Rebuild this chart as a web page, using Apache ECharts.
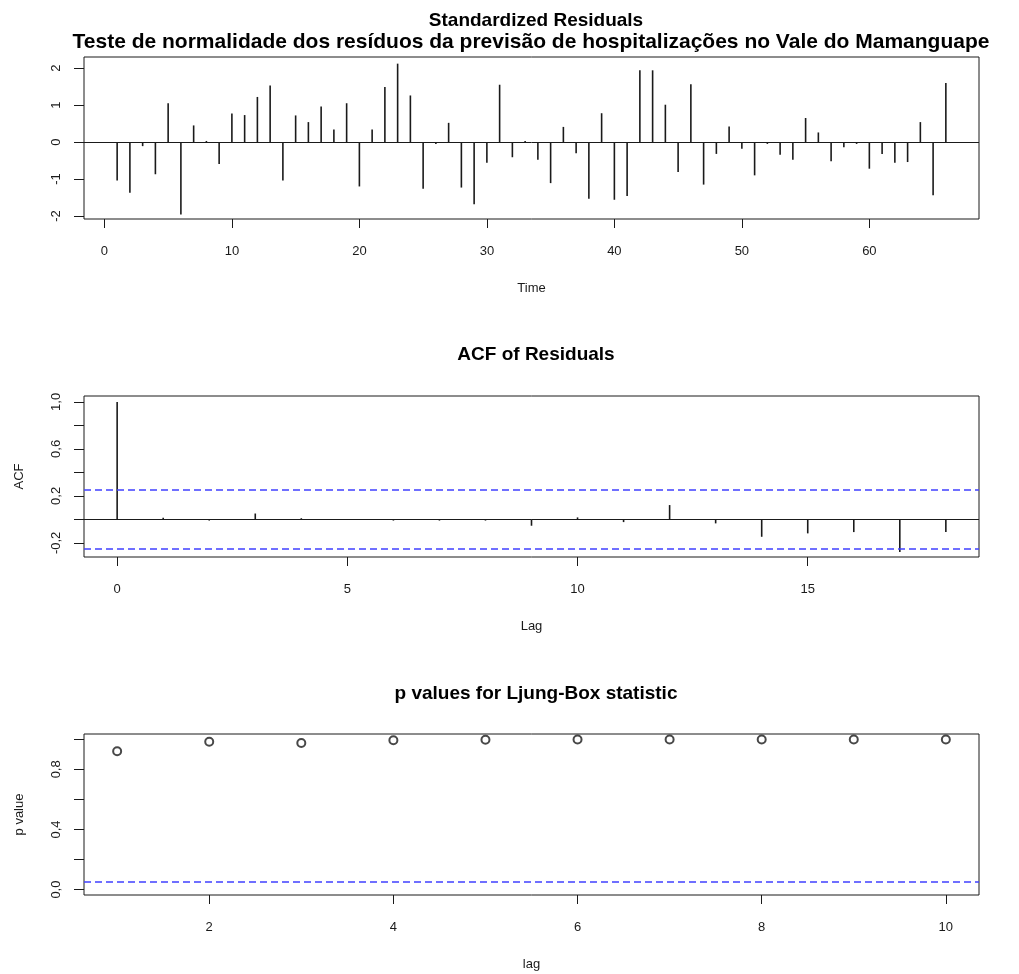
<!DOCTYPE html>
<html>
<head>
<meta charset="utf-8">
<script src="https://cdn.jsdelivr.net/npm/echarts@6/dist/echarts.min.js"></script>
<style>
  html, body { margin: 0; padding: 0; background: #fff; }
  #chart { width: 1019px; height: 974px; }
</style>
</head>
<body>
<div id="chart"></div>
<script>
// standardized residuals, t = 1..66
var residuals = [
    -1.04, -1.37, -0.11, -0.87, 1.05, -1.96, 0.45, 0.03, -0.59, 0.77,
    0.73, 1.22, 1.53, -1.04, 0.72, 0.54, 0.96, 0.34, 1.05, -1.20,
    0.34, 1.49, 2.12, 1.26, -1.26, -0.05, 0.52, -1.23, -1.68, -0.56,
    1.55, -0.41, 0.03, -0.48, -1.11, 0.41, -0.30, -1.53, 0.78, -1.56,
    -1.46, 1.94, 1.94, 1.01, -0.81, 1.56, -1.15, -0.32, 0.42, -0.18,
    -0.90, -0.05, -0.34, -0.48, 0.65, 0.26, -0.52, -0.14, -0.05, -0.72,
    -0.32, -0.56, -0.54, 0.54, -1.44, 1.60
];

// ACF of residuals, lag 0..18
var acfLags = [0, 1, 2, 3, 4, 5, 6, 7, 8, 9, 10, 11, 12, 13, 14, 15, 16, 17, 18];
var acfValues = [1.0, 0.014, -0.01, 0.05, 0.01, -0.005, -0.01, -0.01, -0.01, -0.054,
    0.017, -0.023, 0.122, -0.034, -0.148, -0.119, -0.108, -0.278, -0.108];
var acfBound = 0.246;

// Ljung-Box p values
var lbLags = [1, 2, 3, 4, 5, 6, 7, 8, 9, 10];
var lbPvalues = [0.92, 0.984, 0.975, 0.993, 0.997, 0.999, 0.999, 0.999, 0.999, 0.999];
var lbBound = 0.05;

// ticks
var timeTicks = [0, 10, 20, 30, 40, 50, 60];
var resTicks = [-2, -1, 0, 1, 2];
var acfXTicks = [0, 5, 10, 15];
var acfYTicks = [-0.2, 0, 0.2, 0.4, 0.6, 0.8, 1.0];
var acfYLabels = [-0.2, 0.2, 0.6, 1.0];
var lbXTicks = [2, 4, 6, 8, 10];
var lbYTicks = [0, 0.2, 0.4, 0.6, 0.8, 1.0];
var lbYLabels = [0, 0.4, 0.8];

var FONT = 'Liberation Sans, Arial, sans-serif';
var INK = '#1a1a1a';
var BLUE = '#4040ff';

function comma(v) {
    return v.toFixed(1).replace('.', ',');
}

function xAx(idx, min, max, ticks, name) {
    return {
        type: 'value', gridIndex: idx, min: min, max: max,
        axisLine: { show: false, onZero: false },
        splitLine: { show: false },
        axisTick: { show: true, length: 9, lineStyle: { color: INK }, customValues: ticks },
        axisLabel: { color: INK, fontFamily: FONT, fontSize: 13, margin: 26, customValues: ticks },
        name: name, nameLocation: 'middle', nameGap: 63,
        nameTextStyle: { color: INK, fontFamily: FONT, fontSize: 13 }
    };
}

function yAx(idx, min, max, ticks, labels, fmt, name) {
    return {
        type: 'value', gridIndex: idx, min: min, max: max,
        axisLine: { show: false, onZero: false },
        splitLine: { show: false },
        axisTick: { show: true, length: 10, lineStyle: { color: INK }, customValues: ticks },
        axisLabel: { color: INK, fontFamily: FONT, fontSize: 13, margin: 21, rotate: 90,
            customValues: labels, formatter: fmt },
        name: name, nameLocation: 'middle', nameGap: 58, nameRotate: 90,
        nameTextStyle: { color: INK, fontFamily: FONT, fontSize: 13 }
    };
}

function hline(y, color, type) {
    return { yAxis: y, lineStyle: { color: color, width: color === BLUE ? 1.6 : 1, type: type } };
}

var resData = residuals.map(function (v, i) { return [i + 1, v]; });
var acfData = acfLags.map(function (l, i) { return [l, acfValues[i]]; });
var lbData = lbLags.map(function (l, i) { return [l, lbPvalues[i]]; });

var myChart = echarts.init(document.getElementById('chart'));

var titleStyle = { fontFamily: FONT, fontSize: 19, fontWeight: 'bold', color: '#000' };

var option = {
    animation: false,
    backgroundColor: '#fff',
    title: [
        { text: 'Standardized Residuals', left: 531, top: 6, textAlign: 'center', textStyle: titleStyle },
        { text: 'Teste de normalidade dos resíduos da previsão de hospitalizações no Vale do Mamanguape',
          left: 526, top: 27, textAlign: 'center',
          textStyle: { fontFamily: FONT, fontSize: 21, fontWeight: 'bold', color: '#000' } },
        { text: 'ACF of Residuals', left: 531, top: 340, textAlign: 'center', textStyle: titleStyle },
        { text: 'p values for Ljung-Box statistic', left: 531, top: 679, textAlign: 'center', textStyle: titleStyle }
    ],
    grid: [
        { left: 84, right: 40, top: 57, height: 162, show: true, borderColor: INK, borderWidth: 1, backgroundColor: 'transparent' },
        { left: 84, right: 40, top: 396, height: 161, show: true, borderColor: INK, borderWidth: 1, backgroundColor: 'transparent' },
        { left: 84, right: 40, top: 734, height: 161, show: true, borderColor: INK, borderWidth: 1, backgroundColor: 'transparent' }
    ],
    xAxis: [
        xAx(0, -1.6, 68.6, timeTicks, 'Time'),
        xAx(1, -0.72, 18.72, acfXTicks, 'Lag'),
        xAx(2, 0.64, 10.36, lbXTicks, 'lag')
    ],
    yAxis: [
        yAx(0, -2.08, 2.3, resTicks, resTicks, function (v) { return String(v); }, ''),
        yAx(1, -0.32, 1.05, acfYTicks, acfYLabels, comma, 'ACF'),
        yAx(2, -0.036, 1.035, lbYTicks, lbYLabels, comma, 'p value')
    ],
    series: [
        {
            type: 'bar', xAxisIndex: 0, yAxisIndex: 0, data: resData,
            barWidth: 1.6, itemStyle: { color: INK },
            markLine: { silent: true, symbol: 'none', label: { show: false },
                data: [hline(0, INK, 'solid')] }
        },
        {
            type: 'bar', xAxisIndex: 1, yAxisIndex: 1, data: acfData,
            barWidth: 1.6, itemStyle: { color: INK },
            markLine: { silent: true, symbol: 'none', label: { show: false },
                data: [hline(0, INK, 'solid'), hline(acfBound, BLUE, [7, 4]), hline(-acfBound, BLUE, [7, 4])] }
        },
        {
            type: 'scatter', xAxisIndex: 2, yAxisIndex: 2, data: lbData,
            symbol: 'emptyCircle', symbolSize: 8,
            itemStyle: { color: INK, borderWidth: 1.2 },
            markLine: { silent: true, symbol: 'none', label: { show: false },
                data: [hline(lbBound, BLUE, [7, 4])] }
        }
    ]
};

myChart.setOption(option);
</script>
</body>
</html>
